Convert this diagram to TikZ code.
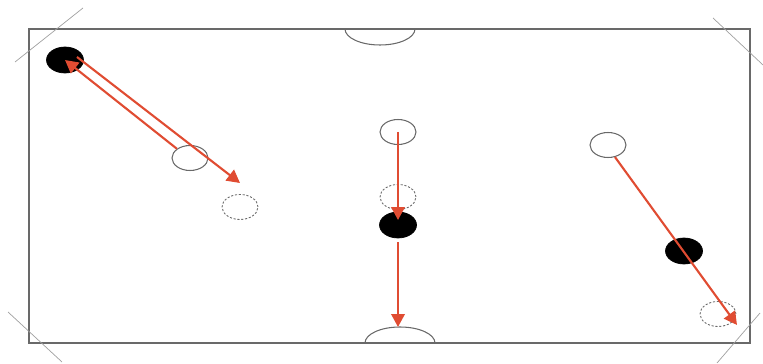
\documentclass[tikz,border=0pt]{standalone}
\usepackage{tikz}
\usetikzlibrary{shapes.geometric, arrows.meta, positioning, calc}
\definecolor{movered}{RGB}{224, 76, 50}
\definecolor{fieldgray}{RGB}{105, 105, 105}
\definecolor{markgray}{RGB}{160, 160, 160}

\begin{document}
\begin{tikzpicture}[
    x=0.02cm, y=-0.02cm,
    player/.style={ellipse, draw=fieldgray, line width=0.6pt, fill=white, minimum width=0.72cm, minimum height=0.5cm, inner sep=0pt},
    ball/.style={ellipse, draw=black, fill=black, minimum width=0.74cm, minimum height=0.52cm, inner sep=0pt},
    ghost/.style={ellipse, draw=fieldgray, dashed, dash pattern=on 1.2pt off 1pt, line width=0.5pt, minimum width=0.72cm, minimum height=0.5cm, inner sep=0pt},
    field/.style={draw=fieldgray, line width=0.9pt},
    corner/.style={draw=markgray, thin},
    arrow/.style={-{Triangle[length=0.26cm, width=0.27cm]}, line width=1.2pt, movered}
]
    \useasboundingbox (0,0) rectangle (763,364);

    % --- Field ---
    \draw[field] (29,29) rectangle (750,343);
    \draw[corner] (15,62) -- (83,8);
    \draw[corner] (713,18) -- (763,65);
    \draw[corner] (8,312) -- (62,362);
    \draw[corner] (760,313) -- (717,363);

    % goals
    \draw[fieldgray, line width=0.6pt] (345,29) arc[start angle=180, end angle=0, x radius=35, y radius=16];
    \draw[fieldgray, line width=0.6pt] (365,343) arc[start angle=180, end angle=360, x radius=35, y radius=16];
    \coordinate (goalb) at (400,327);

    % --- Left ---
    \node[ball] (lball) at (65,60) {};
    \node[player] (lopen) at (190,158) {};
    \node[ghost] (lghost) at (240,207) {};
    \coordinate (ltip) at (240,183);

    \draw[arrow] (lopen.north west) -- (lball.center);
    \draw[arrow] ($(lball.center)+(12,-3)$) -- (ltip);

    % --- Middle ---
    \node[player] (mopen) at (398,132) {};
    \node[ghost] (mghost) at (398,197) {};
    \node[ball] (mball) at (398,225) {};

    \draw[arrow, shorten >=0.1cm] (mopen.center) -- (mball.center);
    \draw[arrow] ($(mball.south)+(0,4)$) -- (goalb -| mball);

    % --- Right ---
    \node[player] (ropen) at (608,145) {};
    \node[ball] (rball) at (684,251) {};
    \node[ghost] (rghost) at (718,314) {};
    \coordinate (rtip) at (737,325);

    \draw[arrow] (ropen.-60) -- (rtip);

\end{tikzpicture}
\end{document}
